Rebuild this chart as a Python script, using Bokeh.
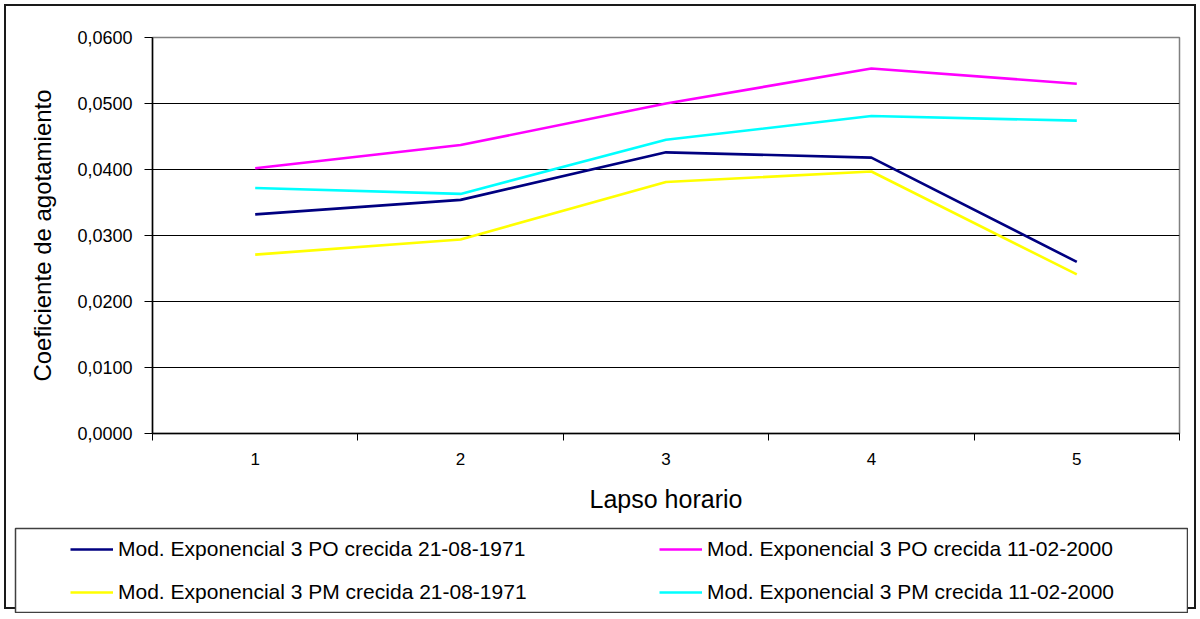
from bokeh.plotting import figure
from bokeh.layouts import column
from bokeh.models import FixedTicker, Legend, LegendItem, Range1d
from bokeh.embed import file_html
from bokeh.resources import INLINE

# ---- data ----
lapso = [1, 2, 3, 4, 5]
po_1971 = [0.0332, 0.0354, 0.0426, 0.0418, 0.0260]
po_2000 = [0.0402, 0.0437, 0.0500, 0.0553, 0.0530]
pm_1971 = [0.0271, 0.0294, 0.0381, 0.0397, 0.0241]
pm_2000 = [0.0372, 0.0363, 0.0445, 0.0481, 0.0474]

series_names = [
    "Mod. Exponencial 3 PO crecida 21-08-1971",
    "Mod. Exponencial 3 PO crecida 11-02-2000",
    "Mod. Exponencial 3 PM crecida 21-08-1971",
    "Mod. Exponencial 3 PM crecida 11-02-2000",
]
series_colors = ["#000080", "#FF00FF", "#FFFF00", "#00FFFF"]

y_ticks = [0.0, 0.01, 0.02, 0.03, 0.04, 0.05, 0.06]
y_tick_labels = ["0,0000", "0,0100", "0,0200", "0,0300", "0,0400", "0,0500", "0,0600"]

x_title = "Lapso horario"
y_title = "Coeficiente de agotamiento"

FONT = "Liberation Sans"
all_series = [po_1971, po_2000, pm_1971, pm_2000]

# ---------------- main chart ----------------
W1, H1 = 1200, 520
p = figure(width=W1, height=H1, output_backend="svg", toolbar_location=None,
           x_range=Range1d(lapso[0] - 0.5, lapso[-1] + 0.5),
           y_range=Range1d(y_ticks[0], y_ticks[-1]),
           min_border_left=152, min_border_right=21,
           min_border_top=37, min_border_bottom=87)
p.frame_align = False
p.background_fill_color = "white"
p.border_fill_alpha = 0
p.outline_line_color = "#808080"
p.outline_line_width = 1.5

p.xgrid.visible = False
p.ygrid.ticker = FixedTicker(ticks=y_ticks)
p.ygrid.grid_line_color = "black"
p.ygrid.grid_line_width = 1

p.yaxis.ticker = FixedTicker(ticks=y_ticks)
p.yaxis.major_label_overrides = dict(zip(y_ticks, y_tick_labels))
p.yaxis.major_tick_out = 8
p.yaxis.major_tick_in = 0
p.yaxis.minor_tick_out = 0
p.yaxis.minor_tick_in = 0
p.yaxis.major_label_standoff = 12
p.yaxis.major_label_text_font = FONT
p.yaxis.major_label_text_font_size = "18px"
p.yaxis.major_label_text_color = "black"
p.yaxis.axis_line_color = "black"
p.yaxis.axis_line_width = 1.5
p.yaxis.major_tick_line_color = "black"
p.yaxis.axis_label = y_title
p.yaxis.axis_label_text_font = FONT
p.yaxis.axis_label_text_font_style = "normal"
p.yaxis.axis_label_text_font_size = "24px"
p.yaxis.axis_label_text_color = "black"
p.yaxis.axis_label_standoff = 18

boundaries = [v - 0.5 for v in lapso] + [lapso[-1] + 0.5]
p.xaxis.ticker = FixedTicker(ticks=lapso, minor_ticks=boundaries)
p.xaxis.major_tick_out = 0
p.xaxis.major_tick_in = 0
p.xaxis.minor_tick_out = 7
p.xaxis.minor_tick_in = 0
p.xaxis.minor_tick_line_color = "black"
p.xaxis.major_label_standoff = 12
p.xaxis.major_label_text_font = FONT
p.xaxis.major_label_text_font_size = "17px"
p.xaxis.major_label_text_color = "black"
p.xaxis.axis_line_color = "black"
p.xaxis.axis_line_width = 1.5
p.xaxis.axis_label = x_title
p.xaxis.axis_label_text_font = FONT
p.xaxis.axis_label_text_font_style = "normal"
p.xaxis.axis_label_text_font_size = "25px"
p.xaxis.axis_label_text_color = "black"
p.xaxis.axis_label_standoff = 17

for vals, col in zip(all_series, series_colors):
    p.line(lapso, vals, line_color=col, line_width=2.6)

# ---------------- legend panel ----------------
W2, H2 = 1174, 86
lg = figure(width=W2, height=H2, output_backend="svg", toolbar_location=None,
            x_range=Range1d(0, 1), y_range=Range1d(1, 2),
            x_axis_type=None, y_axis_type=None,
            min_border=1, margin=(7, 0, 0, 14))
lg.frame_align = False
lg.xgrid.visible = False
lg.ygrid.visible = False
lg.outline_line_color = "#404040"
lg.outline_line_width = 1.5
lg.background_fill_color = "white"
lg.border_fill_alpha = 0

leg_renderers = []
for vals, col in zip(all_series, series_colors):
    # same series, drawn in the legend panel only for their swatches
    leg_renderers.append(lg.line(lapso, vals, line_color=col, line_width=2.6))

items = [LegendItem(label=n, renderers=[r]) for n, r in zip(series_names, leg_renderers)]
legend = Legend(items=items, ncols=2, orientation="horizontal",
                location=(47, 0),
                padding=8, spacing=19, margin=0,
                glyph_width=43, glyph_height=20, label_height=20,
                label_width=522, label_standoff=5,
                label_text_font=FONT, label_text_font_size="21px",
                label_text_color="black",
                border_line_alpha=0, background_fill_alpha=0)
lg.add_layout(legend)

layout = column(p, lg, spacing=0,
                styles={"background-color": "white",
                        "outline": "2px solid #1a1a1a", "outline-offset": "-6px"})

open("out.html", "w").write(file_html(layout, INLINE))
